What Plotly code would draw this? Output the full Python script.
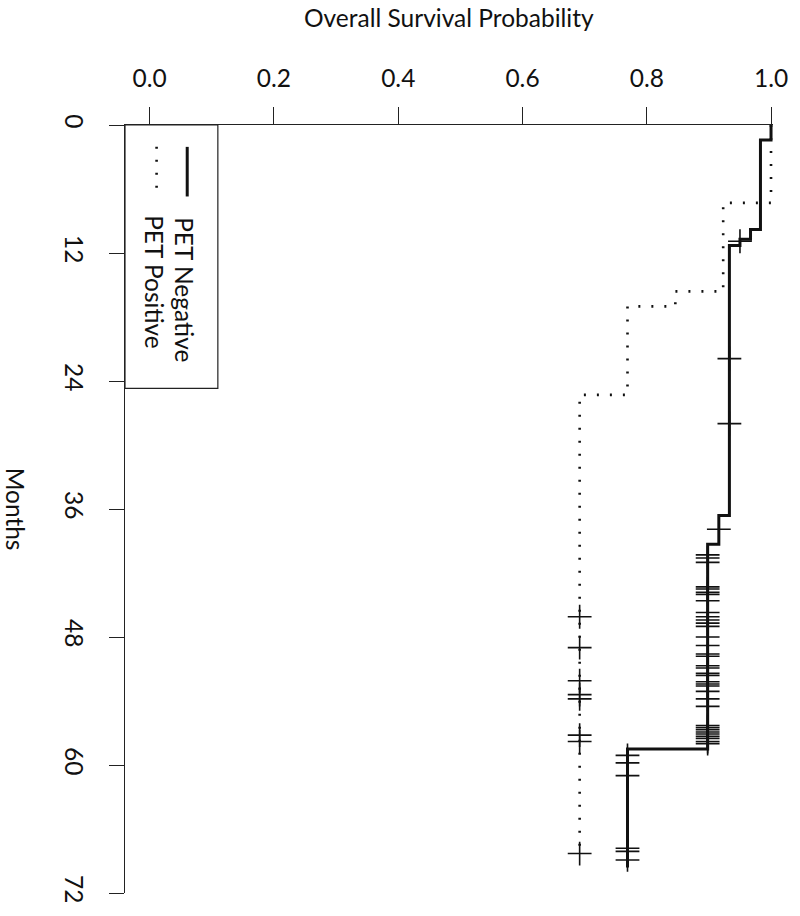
import plotly.graph_objects as go

# ---- data ----
neg_times = [0, 1.4, 9.8, 10.7, 11.3, 36.6, 39.3, 58.5]
neg_surv = [1.0, 0.983, 0.967, 0.950, 0.933, 0.916, 0.898, 0.769]
neg_end = 69.6
neg_cens_t = [10.9, 21.9, 28.0, 37.9,
              40.3, 40.6, 41.0, 43.3, 43.5, 43.8, 44.0, 44.6, 45.7, 46.1, 46.4, 46.7, 47.0,
              48.0, 48.8, 49.6, 49.8, 50.7, 50.9, 51.4, 51.6, 52.2, 52.4, 52.6, 53.1, 53.8, 54.5,
              56.3, 56.5, 56.7, 56.9, 57.1, 57.3, 57.5, 57.8, 58.0,
              59.1, 59.8, 61.0, 67.8, 68.1, 68.9]
neg_cens_s = [0.950, 0.933, 0.933, 0.916] + [0.898] * 36 + [0.769] * 6

pos_times = [0, 7.3, 15.6, 17.0, 25.3]
pos_surv = [1.0, 0.923, 0.846, 0.769, 0.692]
pos_end = 68.3
pos_cens_t = [46.1, 49.0, 52.1, 53.4, 53.8, 57.2, 57.8, 68.3]
pos_cens_s = [0.692] * 8

x_ticks = [0.0, 0.2, 0.4, 0.6, 0.8, 1.0]
x_ticktext = ["0.0", "0.2", "0.4", "0.6", "0.8", "1.0"]
y_ticks = [0, 12, 24, 36, 48, 60, 72]

FONT = "Lato"
FS = 24.5

fig = go.Figure()

def km(times, surv, end):
    return list(surv) + [surv[-1]], list(times) + [end]

xs, ys = km(neg_times, neg_surv, neg_end)
fig.add_trace(go.Scatter(x=xs, y=ys, mode="lines", line=dict(color="#111", width=3, shape="vh"),
                         showlegend=False, hoverinfo="skip"))
xs, ys = km(pos_times, pos_surv, pos_end)
fig.add_trace(go.Scatter(x=xs, y=ys, mode="lines",
                         line=dict(color="#111", width=2.6, shape="vh", dash="2px,11px"),
                         showlegend=False, hoverinfo="skip"))
fig.add_trace(go.Scatter(x=neg_cens_s, y=neg_cens_t, mode="markers",
                         marker=dict(symbol="cross-thin", size=17, line=dict(color="#111", width=1.6)),
                         showlegend=False, hoverinfo="skip", cliponaxis=False))
fig.add_trace(go.Scatter(x=pos_cens_s, y=pos_cens_t, mode="markers",
                         marker=dict(symbol="cross-thin", size=17, line=dict(color="#111", width=1.6)),
                         showlegend=False, hoverinfo="skip", cliponaxis=False))

# legend box (rotated legend)
x0 = -25 / 629
fig.add_shape(type="rect", xref="x", yref="y", x0=x0, x1=0.1097, y0=0, y1=24.7,
              line=dict(color="#222", width=1.2))
fig.add_shape(type="line", xref="x", yref="y", x0=0.0604, x1=0.0604, y0=2.05, y1=6.7,
              line=dict(color="#111", width=3))
fig.add_shape(type="line", xref="x", yref="y", x0=0.0111, x1=0.0111, y0=2.05, y1=6.7,
              line=dict(color="#111", width=2.6, dash="2px,11px"))
fig.add_annotation(x=0.057, y=15.4, xref="x", yref="y", text="PET Negative", textangle=90,
                   showarrow=False, xanchor="center", yanchor="middle",
                   font=dict(family=FONT, size=FS, color="#111"))
fig.add_annotation(x=0.008, y=14.7, xref="x", yref="y", text="PET Positive", textangle=90,
                   showarrow=False, xanchor="center", yanchor="middle",
                   font=dict(family=FONT, size=FS, color="#111"))

fig.add_annotation(x=0.5, y=1 + 108 / 772, xref="paper", yref="paper",
                   text="Overall Survival Probability", showarrow=False,
                   xanchor="center", yanchor="middle",
                   font=dict(family=FONT, size=FS, color="#111"))
fig.add_annotation(x=-110 / 656, y=0.5, xref="paper", yref="paper", text="Months",
                   textangle=90, showarrow=False, xanchor="center", yanchor="middle",
                   font=dict(family=FONT, size=FS, color="#111"))

fig.update_layout(
    width=800, height=916,
    margin=dict(l=125, r=19, t=125, b=19),
    paper_bgcolor="white", plot_bgcolor="white",
    font=dict(family=FONT, size=FS, color="#111"),
    xaxis=dict(side="top", range=[x0, 1.0 + 2 / 629], tickvals=x_ticks, ticktext=x_ticktext,
               ticks="outside", ticklen=17, tickwidth=1.2, tickcolor="#222",
               showline=True, linecolor="#222", linewidth=1.2, showgrid=False, zeroline=False,
               ticklabelstandoff=10),
    yaxis=dict(range=[72, 0], tickvals=y_ticks, ticks="outside", ticklen=15, tickwidth=1.2,
               tickcolor="#222", showline=True, linecolor="#222", linewidth=1.2,
               showgrid=False, zeroline=False, tickangle=90, ticklabelstandoff=14),
)

fig.write_html("out.html", config={"displayModeBar": False},
               post_script="document.body.style.margin='0';")
